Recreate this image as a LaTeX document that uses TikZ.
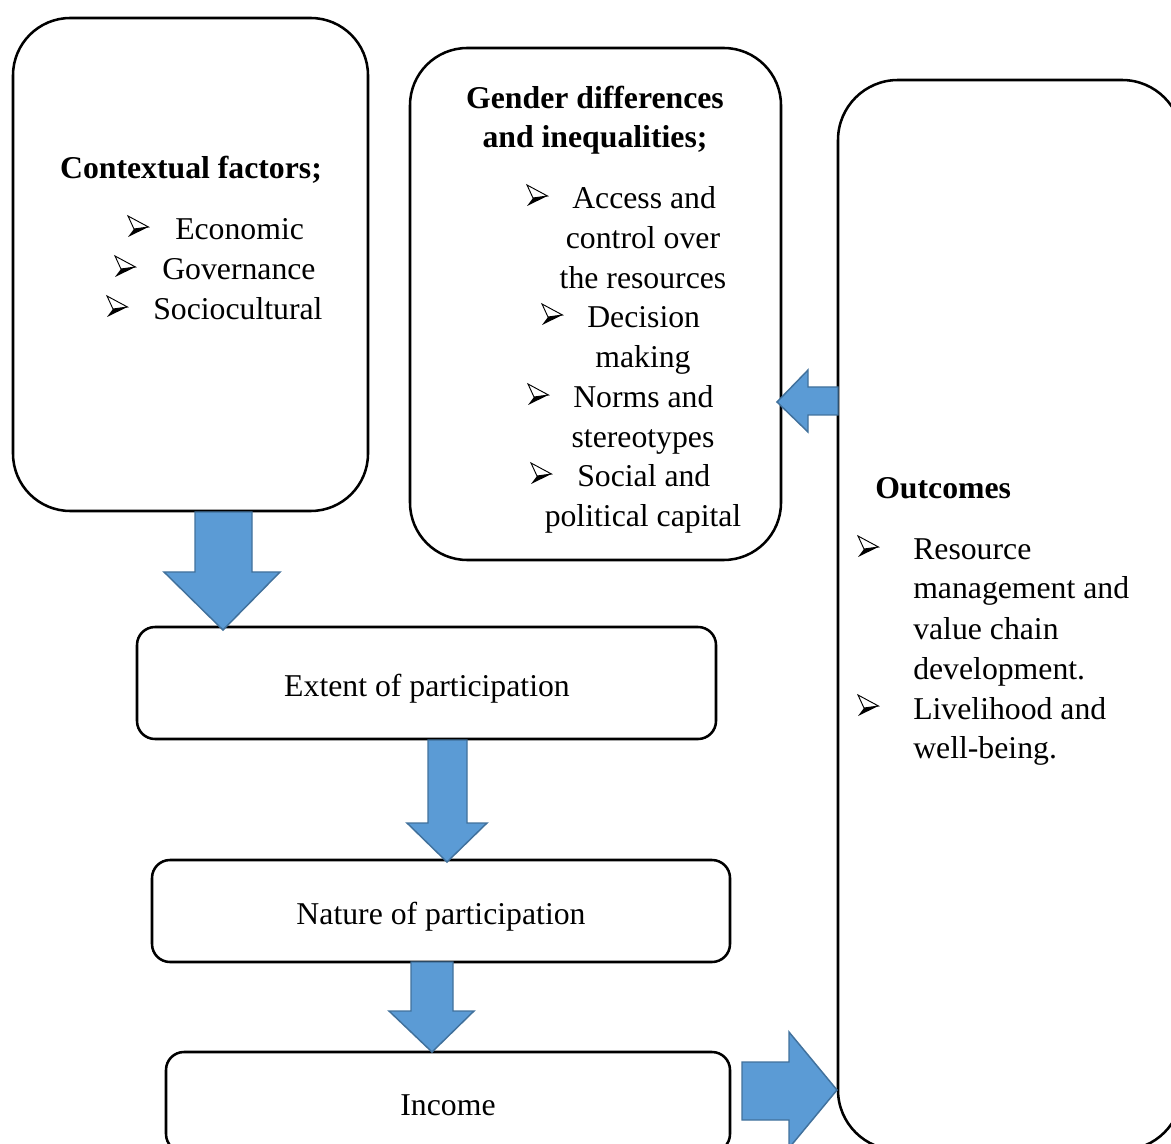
\documentclass[tikz,border=0pt]{standalone}
\usepackage{fontspec}
\setmainfont{Liberation Serif}
\definecolor{fillblue}{HTML}{5B9BD5}
\definecolor{edgeblue}{HTML}{41719C}
\tikzset{
  bigbox/.style={draw=black, line width=1.9pt, rounded corners=43pt, inner sep=0pt, outer sep=0pt},
  smallbox/.style={draw=black, line width=1.9pt, rounded corners=13.5pt, inner sep=0pt, outer sep=0pt},
  txt/.style={inner sep=0pt, yshift=-1.5pt, font=\fontsize{23.8}{30}\selectfont},
  head/.style={txt, font=\fontsize{23.8}{30}\selectfont\bfseries},
  blockarrow/.style={fill=fillblue, draw=edgeblue, line width=1.1pt, line join=miter},
  bul/.pic={
    \draw[line width=0.7pt, fill=white, line join=miter] (-10,-10) -- (10.5,1) -- (-4,3) -- cycle;
    \fill[black] (-4,3) -- (10.5,1) -- (-10,11) -- cycle;
  }
}
\begin{document}
\begin{tikzpicture}[x=0.75pt, y=-0.75pt]
\useasboundingbox (0,0) rectangle (1171,1144);
\clip (0,0) rectangle (1171,1144);

% boxes
\node[bigbox, minimum width=266.25pt, minimum height=369.75pt] (ctx) at (190.5,264.5) {};
\node[bigbox, minimum width=278.25pt, minimum height=384pt] (gen) at (595.5,304) {};
\node[bigbox, rounded corners=45pt, minimum width=258pt, minimum height=802.5pt] (out) at (1010,615) {};
\node[smallbox, minimum width=434.25pt, minimum height=84pt] (ext) at (426.5,683) {};
\node[smallbox, minimum width=433.5pt, minimum height=76.5pt] (nat) at (441,911) {};
\node[smallbox, minimum width=423pt, minimum height=75pt] (inc) at (448,1102) {};

% labels of the flow boxes
\node[txt, anchor=base] (extl) at (427,694) {Extent of participation};
\node[txt, anchor=base] (natl) at (441,922) {Nature of participation};
\node[txt, anchor=base] (incl) at (448,1113) {Income};

% contextual factors
\node[head, anchor=base] (ctxh) at (191,177) {Contextual factors;};
\pic at (138,226) {bul};
\node[txt, anchor=base west] (c1) at (175,238) {Economic};
\pic at (125,266) {bul};
\node[txt, anchor=base west] (c2) at (162,278) {Governance};
\pic at (117,306) {bul};
\node[txt, anchor=base west] (c3) at (153,318) {Sociocultural};

% gender differences
\node[head, anchor=base] (genh1) at (595,107) {Gender differences};
\node[head, anchor=base] (genh2) at (595,146) {and inequalities;};
\pic at (537,195) {bul};
\node[txt, anchor=base west] (g1) at (572,207) {Access and};
\node[txt, anchor=base] (g1b) at (643,247) {control over};
\node[txt, anchor=base] (g1c) at (643,287) {the resources};
\pic at (552,314) {bul};
\node[txt, anchor=base west] (g2) at (587,326) {Decision};
\node[txt, anchor=base] (g2b) at (643,366) {making};
\pic at (538,394) {bul};
\node[txt, anchor=base west] (g3) at (573,406) {Norms and};
\node[txt, anchor=base] (g3b) at (643,446) {stereotypes};
\pic at (541,473) {bul};
\node[txt, anchor=base west] (g4) at (577,485) {Social and};
\node[txt, anchor=base] (g4b) at (643,525) {political capital};

% outcomes
\node[head, anchor=base west] (outh) at (875,497) {Outcomes};
\pic at (868,546) {bul};
\node[txt, anchor=base west] (o1) at (913,558) {Resource};
\node[txt, anchor=base west] (o1b) at (913,597) {management and};
\node[txt, anchor=base west] (o1c) at (913,637) {value chain};
\node[txt, anchor=base west] (o1d) at (913,677) {development.};
\pic at (868,705) {bul};
\node[txt, anchor=base west] (o2) at (913,717) {Livelihood and};
\node[txt, anchor=base west] (o2b) at (913,756) {well-being.};

% block arrows
\draw[blockarrow] (195,512) -- (252,512) -- (252,572) -- (280,572) -- (223,630) -- (164,572) -- (195,572) -- cycle;
\draw[blockarrow] (428,740) -- (467,740) -- (467,823) -- (487,823) -- (447,862) -- (407,823) -- (428,823) -- cycle;
\draw[blockarrow] (411,962) -- (453,962) -- (453,1011) -- (474,1011) -- (432,1052) -- (389,1011) -- (411,1011) -- cycle;
\draw[blockarrow] (742,1062) -- (789,1062) -- (789,1032) -- (837,1090) -- (789,1148) -- (789,1120) -- (742,1120) -- cycle;
\draw[blockarrow] (838,387) -- (808,387) -- (808,370) -- (777,402) -- (808,432) -- (808,415) -- (838,415) -- cycle;
\end{tikzpicture}
\end{document}
